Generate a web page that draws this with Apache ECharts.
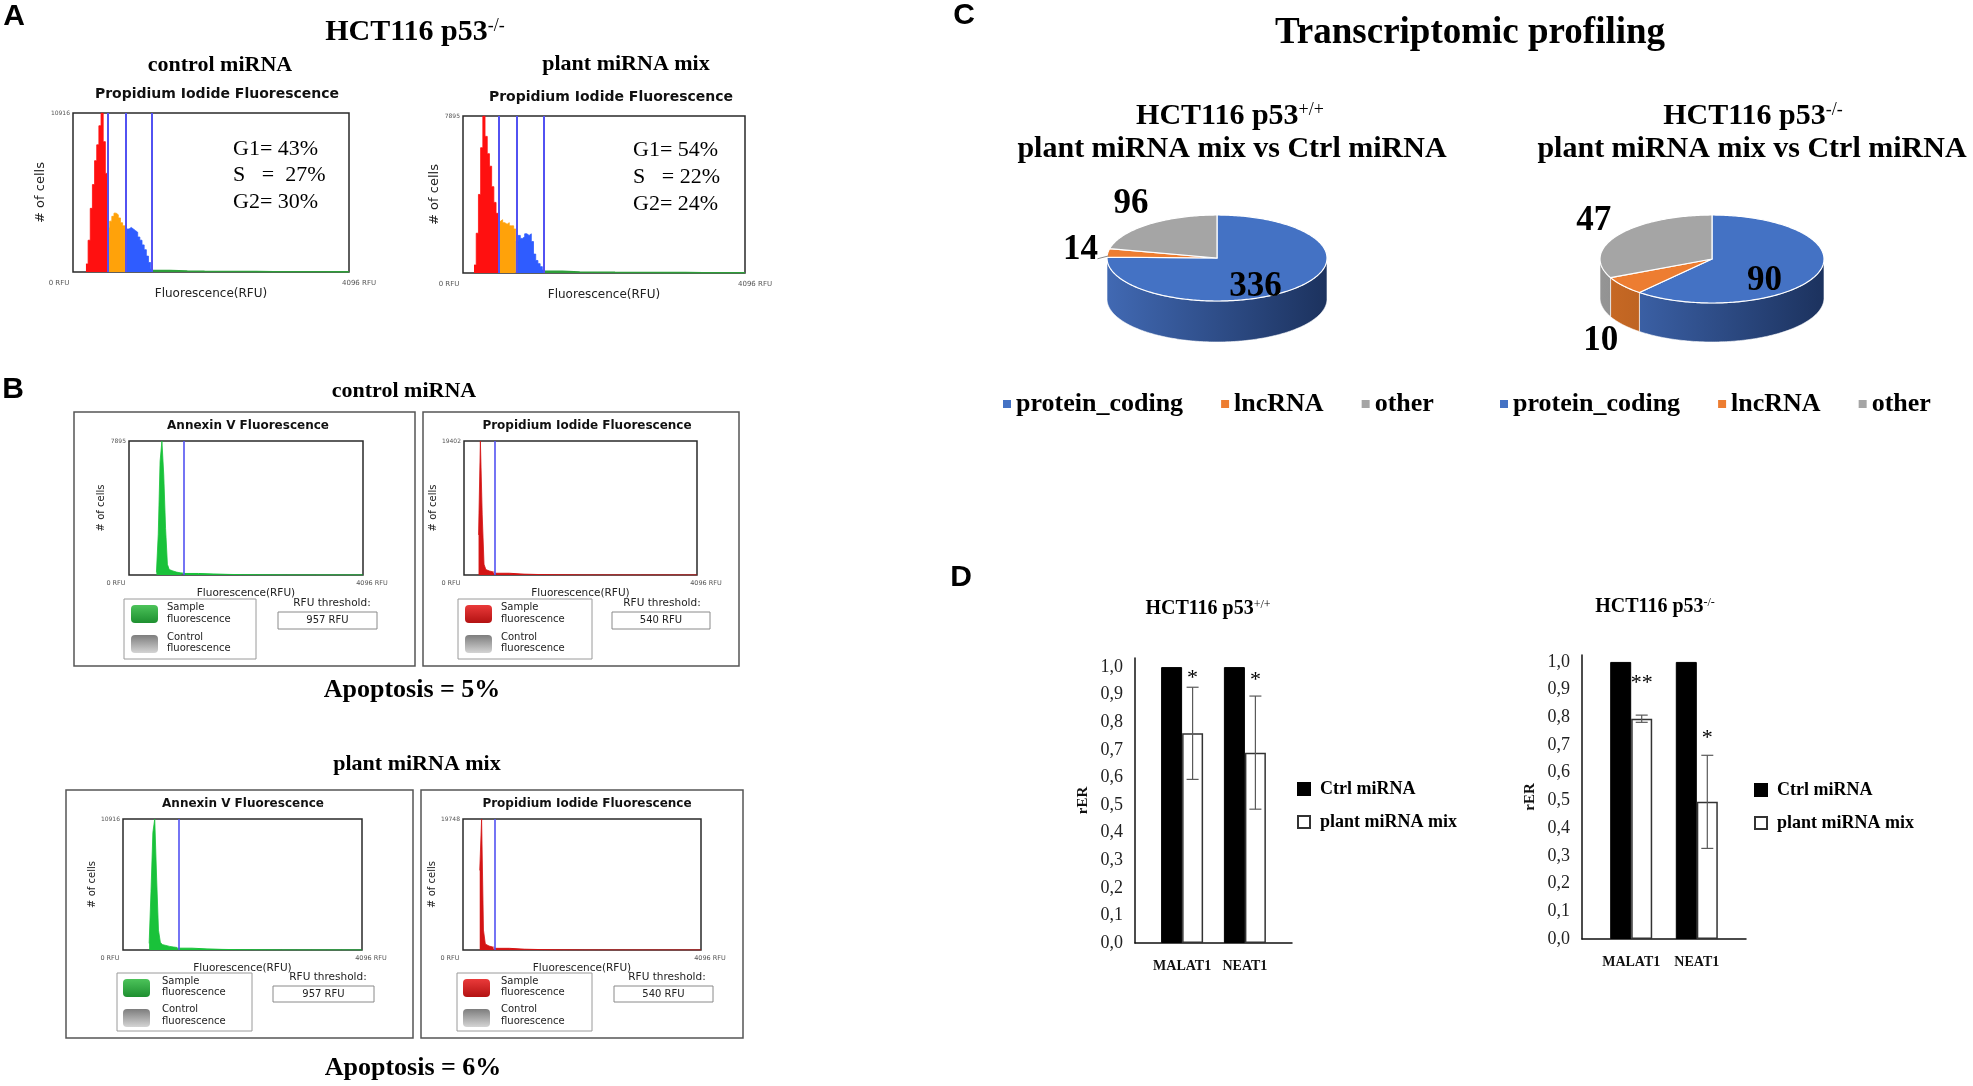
<!DOCTYPE html>
<html><head><meta charset="utf-8">
<script src="https://cdn.jsdelivr.net/npm/echarts@6/dist/echarts.min.js"></script>
<style>html,body{margin:0;padding:0;background:#fff}#c{width:1973px;height:1086px}</style>
</head><body><div id="c"></div>
<script>
// ---------------- DATA ----------------
const BIN = 32, TAIL_BIN = 256, RFU_MAX = 4096;

// Panel A: PI cell-cycle histograms, HCT116 p53-/- (counts per 32-RFU bin)
const cycleCtrlMax = 10916;
const cycleCtrlStart = 192;
const cycleCtrlG1 = [550, 2180, 4370, 6000, 7640, 8730, 10040, 10916, 8950, 6770];
const cycleCtrlS  = [3060, 3490, 3820, 4040, 3930, 3710, 3380, 3170, 3060];
const cycleCtrlG2 = [2950, 3060, 2950, 2840, 2730, 2400, 2180, 1860, 1530, 1090, 650, 220];
const cycleCtrlTail = [100, 60, 45, 35, 30, 25, 22, 20, 18, 15, 12, 10];
const cycleCtrlGates = [520, 785, 1172];
const cycleCtrlPhases = ['G1= 43%', 'S   =  27%', 'G2= 30%'];

const cycleMixMax = 7895;
const cycleMixStart = 160;
const cycleMixG1 = [400, 2000, 3950, 6300, 7895, 6870, 6000, 5370, 4340, 3550, 3000];
const cycleMixS  = [2600, 2680, 2530, 2450, 2530, 2370, 2370, 2210];
const cycleMixG2 = [1580, 1890, 1740, 1820, 1970, 1890, 1970, 1580, 950, 630, 470, 320, 160];
const cycleMixTail = [80, 50, 40, 30, 25, 22, 20, 18, 15, 12, 10, 10];
const cycleMixGates = [523, 784, 1176];
const cycleMixPhases = ['G1= 54%', 'S   = 22%', 'G2= 24%'];

// Panel B: apoptosis histograms
const annexinThreshold = 957, piThreshold = 540;
const annexinCtrlMax = 7895, annexinCtrlStart = 480;
const annexinCtrl = [150, 2400, 6700, 7895, 5900, 2750, 630, 320, 240, 200, 170, 150, 130, 120, 110];
const annexinCtrlTail = [90, 60, 35, 20, 12, 8, 6, 5, 4, 4, 3, 3, 3];
const piCtrlMax = 19402, piCtrlStart = 256;
const piCtrl = [5800, 19402, 8700, 1550, 780, 580, 500, 450, 400];
const piCtrlTail = [250, 120, 70, 40, 25, 15, 12, 10, 8, 6, 5, 5, 5, 5];
const annexinMixMax = 10916, annexinMixStart = 448;
const annexinMix = [550, 4900, 9800, 10916, 6000, 1650, 650, 450, 380, 330, 300, 270, 250, 230, 210];
const annexinMixTail = [150, 90, 50, 30, 20, 12, 8, 6, 5, 4, 4, 3, 3];
const piMixMax = 19748, piMixStart = 288;
const piMix = [12000, 19748, 3000, 900, 600, 500, 450, 400];
const piMixTail = [250, 120, 70, 40, 25, 15, 12, 10, 8, 6, 5, 5, 5, 5];
const apoptosisCtrl = 'Apoptosis = 5%';
const apoptosisMix = 'Apoptosis = 6%';

// Panel C: transcriptomic profiling
const rnaTypes = ['protein_coding', 'lncRNA', 'other'];
const degWt = [336, 14, 96];
const degKo = [90, 10, 47];

// Panel D: rER
const genes = ['MALAT1', 'NEAT1'];
const rerCtrlWt = [1.0, 1.0];
const rerMixWt = [0.76, 0.69];
const rerMixWtErr = [0.167, 0.205];
const sigWt = ['*', '*'];
const sigWtY = [0.98, 0.975];
const rerCtrlKo = [1.0, 1.0];
const rerMixKo = [0.795, 0.495];
const rerMixKoErr = [0.013, 0.168];
const sigKo = ['**', '*'];
const sigKoY = [0.945, 0.745];

// ---------------- STYLE / LAYOUT ----------------
const SERIF = '"Liberation Serif","Times New Roman",serif';
const SANS = '"DejaVu Sans",Verdana,sans-serif';
const ARIAL = '"Liberation Sans",Arial,sans-serif';
const RED = '#ff1010', ORANGE = '#ffa20a', BLUE = '#2f5cff', GREEN = '#2e9e3a', SPIKE_GREEN = '#19c23a', SPIKE_RED = '#d41414';
const rnaColors = ['#4472C4', '#ED7D31', '#A5A5A5'];
const wallColors = [['#4169b3', '#1c325e'], ['#c96a25', '#8e4714'], ['#959595', '#5e5e5e']];
const BAR_W = 21;

const grids = [], xAxes = [], yAxes = [], series = [], G = [];

function txt(x, y, text, font, opt) {
  opt = opt || {};
  const align = opt.align || 'center', va = opt.va || 'middle';
  const style = {text: text, font: font, fill: opt.fill || '#000', align: align, verticalAlign: va, textAlign: align, textVerticalAlign: va};
  if (opt.rich) style.rich = opt.rich;
  return {type: 'text', x: x, y: y, silent: true, z: 50, style: style};
}
function supTitle(x, y, main, sup, size, supSize) {
  return txt(x, y, '{m|' + main + '}{s|' + sup + '}', 'bold ' + size + 'px ' + SERIF,
    {rich: {m: {font: 'bold ' + size + 'px ' + SERIF}, s: {font: supSize + 'px ' + SERIF, verticalAlign: 'top'}}});
}
function stepPts(start, bin, counts) {
  const pts = counts.map((c, i) => [Math.min(start + i * bin, RFU_MAX), c]);
  pts.push([Math.min(start + counts.length * bin, RFU_MAX), counts[counts.length - 1]]);
  return pts;
}
function addHist(g, box, ymax, regions, gateVals, o) {
  grids.push({left: box[0], top: box[1], width: box[2], height: box[3], show: true, borderColor: '#2a2a2a', borderWidth: 1.5, backgroundColor: '#fff'});
  xAxes.push({gridIndex: g, type: 'value', min: 0, max: RFU_MAX, interval: RFU_MAX,
    axisLine: {show: false}, axisTick: {show: false}, splitLine: {show: false},
    axisLabel: {fontFamily: SANS, fontSize: o.tick, color: '#555', margin: o.tickMargin,
      formatter: v => v === 0 ? '{a|0 RFU}' : '{b|' + v + ' RFU}',
      rich: {a: {fontFamily: SANS, fontSize: o.tick, color: '#555', padding: [0, o.padL, 0, 0]},
             b: {fontFamily: SANS, fontSize: o.tick, color: '#555', padding: [0, 0, 0, o.padR]}}},
    name: 'Fluorescence(RFU)', nameLocation: 'middle', nameGap: o.xGap,
    nameTextStyle: {fontFamily: SANS, fontSize: o.xName, color: '#222'}});
  yAxes.push({gridIndex: g, type: 'value', min: 0, max: ymax, interval: ymax,
    axisLine: {show: false}, axisTick: {show: false}, splitLine: {show: false},
    axisLabel: {fontFamily: SANS, fontSize: 6, color: '#555', margin: 3, formatter: v => v === ymax ? String(ymax) : ''},
    name: '# of cells', nameLocation: 'middle', nameGap: o.yGap, nameRotate: 90,
    nameTextStyle: {fontFamily: SANS, fontSize: o.yName, color: '#222'}});
  regions.forEach((r, i) => {
    const s = {type: 'line', xAxisIndex: g, yAxisIndex: g, step: 'end', symbol: 'none', silent: true, z: 2,
      data: stepPts(r.start, r.bin, r.counts),
      lineStyle: {color: r.color, width: r.lw || 0.8}, areaStyle: {color: r.color, opacity: 1}, itemStyle: {color: r.color}};
    if (i === 0) s.markLine = {silent: true, symbol: 'none', label: {show: false}, animation: false,
      lineStyle: {color: '#5252f2', width: o.gateW, type: 'solid'}, data: gateVals.map(v => ({xAxis: v}))};
    series.push(s);
  });
}
function cycleRegions(start, g1, s, g2, tail) {
  const sStart = start + g1.length * BIN, g2Start = sStart + s.length * BIN, tStart = g2Start + g2.length * BIN;
  return [
    {start: start, bin: BIN, counts: g1, color: RED},
    {start: sStart, bin: BIN, counts: s, color: ORANGE},
    {start: g2Start, bin: BIN, counts: g2, color: BLUE},
    {start: tStart, bin: TAIL_BIN, counts: tail, color: GREEN, lw: 1.6}
  ];
}
function spikeRegions(start, fine, tail, color) {
  return [
    {start: start, bin: BIN, counts: fine, color: color},
    {start: start + fine.length * BIN, bin: TAIL_BIN, counts: tail, color: color, lw: 1}
  ];
}
const optA = {tick: 7, tickMargin: 8, padL: 28, padR: 20, xGap: 10, xName: 12, yGap: 14, yName: 13, gateW: 2};
const optB = {tick: 6.5, tickMargin: 5, padL: 26, padR: 18, xGap: 8, xName: 10.5, yGap: 12, yName: 10, gateW: 1.6};

// Panel A
addHist(0, [73, 113, 276, 159], cycleCtrlMax, cycleRegions(cycleCtrlStart, cycleCtrlG1, cycleCtrlS, cycleCtrlG2, cycleCtrlTail), cycleCtrlGates, optA);
addHist(1, [463, 116, 282, 157], cycleMixMax, cycleRegions(cycleMixStart, cycleMixG1, cycleMixS, cycleMixG2, cycleMixTail), cycleMixGates, optA);
// Panel B
addHist(2, [129, 441, 234, 134], annexinCtrlMax, spikeRegions(annexinCtrlStart, annexinCtrl, annexinCtrlTail, SPIKE_GREEN), [annexinThreshold], optB);
addHist(3, [464, 441, 233, 134], piCtrlMax, spikeRegions(piCtrlStart, piCtrl, piCtrlTail, SPIKE_RED), [piThreshold], optB);
addHist(4, [123, 819, 239, 131], annexinMixMax, spikeRegions(annexinMixStart, annexinMix, annexinMixTail, SPIKE_GREEN), [annexinThreshold], optB);
addHist(5, [463, 819, 238, 131], piMixMax, spikeRegions(piMixStart, piMix, piMixTail, SPIKE_RED), [piThreshold], optB);

// Panel D: category slots = spacer, gene, spacer, gene, spacer
const axisSlots = [' ', genes[0], '  ', genes[1], '   '];
function addBars(g, box, ymax, ctrl, mix, err, sig, sigY) {
  grids.push({left: box[0], top: box[1], width: box[2], height: box[3], show: false});
  xAxes.push({gridIndex: g, type: 'category', boundaryGap: true, data: axisSlots,
    axisLine: {show: true, lineStyle: {color: '#111', width: 1.5}}, axisTick: {show: false},
    axisLabel: {interval: 0, fontFamily: SERIF, fontWeight: 'bold', fontSize: 14, color: '#111', margin: 16}});
  yAxes.push({gridIndex: g, type: 'value', min: 0, max: ymax, interval: 0.1,
    axisLine: {show: true, lineStyle: {color: '#111', width: 1.5}}, axisTick: {show: false}, splitLine: {show: false},
    axisLabel: {fontFamily: SERIF, fontSize: 18, color: '#222', margin: 12,
      formatter: v => v > 1.0001 ? '' : v.toFixed(1).replace('.', ',')},
    name: 'rER', nameLocation: 'middle', nameGap: 44, nameRotate: 90,
    nameTextStyle: {fontFamily: SERIF, fontWeight: 'bold', fontSize: 15, color: '#111'}});
  series.push({type: 'bar', name: 'Ctrl miRNA', xAxisIndex: g, yAxisIndex: g, barWidth: BAR_W, barGap: '0%',
    data: genes.map((n, i) => [n, ctrl[i]]), itemStyle: {color: '#000', borderColor: '#000', borderWidth: 1}, silent: true});
  series.push({type: 'bar', name: 'plant miRNA mix', xAxisIndex: g, yAxisIndex: g, barWidth: BAR_W, barGap: '0%',
    data: genes.map((n, i) => [n, mix[i]]), itemStyle: {color: '#fff', borderColor: '#333', borderWidth: 1.5}, silent: true});
  series.push({type: 'custom', xAxisIndex: g, yAxisIndex: g, z: 5, silent: true,
    data: genes.map((n, i) => [n, mix[i], err[i]]),
    renderItem: function (params, api) {
      const c = api.value(0), m = api.value(1), e = api.value(2);
      const t = api.coord([c, m + e]), b = api.coord([c, m - e]);
      const x = t[0] + BAR_W / 2;
      const st = api.coord([c, sigY[params.dataIndex]]);
      const ls = {stroke: '#5a5a5a', lineWidth: 1.2};
      return {type: 'group', children: [
        {type: 'line', shape: {x1: x, y1: t[1], x2: x, y2: b[1]}, style: ls},
        {type: 'line', shape: {x1: x - 6, y1: t[1], x2: x + 6, y2: t[1]}, style: ls},
        {type: 'line', shape: {x1: x - 6, y1: b[1], x2: x + 6, y2: b[1]}, style: ls},
        {type: 'text', x: x, y: st[1] + 6, style: {text: sig[params.dataIndex], font: '22px ' + SERIF, fill: '#000',
          align: 'center', verticalAlign: 'middle', textAlign: 'center', textVerticalAlign: 'middle'}}
      ]};
    }});
}
addBars(6, [1135, 658, 157, 285], 1.033, rerCtrlWt, rerMixWt, rerMixWtErr, sigWt, sigWtY);
addBars(7, [1582, 655, 164, 284], 1.025, rerCtrlKo, rerMixKo, rerMixKoErr, sigKo, sigKoY);

// Panel C: 3D-look pies drawn from the values
const pieValues = [degWt, degKo];
const pieLayout = [
  {cx: 1217, cy: 258, rx: 110, ry: 43, depth: 41},
  {cx: 1712, cy: 259, rx: 112, ry: 44, depth: 39}
];
function pieRender(p, k) {
  return function (params, api) {
    const L = pieLayout[p], vals = pieValues[p];
    const total = vals.reduce((a, b) => a + b, 0);
    let acc = 0; for (let j = 0; j < k; j++) acc += vals[j];
    const v = api.value(0);
    const a0 = acc / total * 360, a1 = (acc + v) / total * 360;
    const P = (deg, dy) => { const r = deg * Math.PI / 180; return [L.cx + L.rx * Math.sin(r), L.cy - L.ry * Math.cos(r) + (dy || 0)]; };
    const arc = (s, e, dy) => { const n = Math.max(2, Math.ceil(Math.abs(e - s))); const out = []; for (let i = 0; i <= n; i++) out.push(P(s + (e - s) * i / n, dy)); return out; };
    const ch = [];
    const w0 = Math.max(a0, 90), w1 = Math.min(a1, 270);
    if (w1 > w0) {
      ch.push({type: 'polygon', z2: 1, shape: {points: arc(w0, w1, 0).concat(arc(w1, w0, L.depth))},
        style: {fill: new echarts.graphic.LinearGradient(L.cx - L.rx, 0, L.cx + L.rx, 0,
          [{offset: 0, color: wallColors[k][0]}, {offset: 1, color: wallColors[k][1]}], true),
          stroke: '#ffffff', lineWidth: 0.6}});
    }
    ch.push({type: 'polygon', z2: 5, shape: {points: [[L.cx, L.cy]].concat(arc(a0, a1, 0))},
      style: {fill: rnaColors[k], stroke: '#ffffff', lineWidth: 1.2, lineJoin: 'round'}});
    const mid = (a0 + a1) / 2, mr = mid * Math.PI / 180, s = Math.sin(mr), c = Math.cos(mr);
    let lx, ly;
    if (k === 0) { lx = L.cx + L.rx * 0.5 * s; ly = L.cy - L.ry * 0.5 * c + 14; }
    else { lx = L.cx + L.rx * 1.25 * s; ly = L.cy - L.ry * 1.6 * c + (c < 0 ? L.depth : 0); }
    ch.push({type: 'text', z2: 10, x: lx, y: ly, style: {text: String(v), font: 'bold 35px ' + SERIF, fill: '#000',
      align: 'center', verticalAlign: 'middle', textAlign: 'center', textVerticalAlign: 'middle'}});
    if (v / total < 0.05) {
      const rim = P(mid, 0);
      ch.push({type: 'polyline', z2: 10, shape: {points: [[lx + 17, ly + 9], [rim[0] + 1, rim[1] + 3]]},
        style: {stroke: '#8a8a8a', lineWidth: 1, fill: null}});
    }
    return {type: 'group', children: ch};
  };
}
[0, 1].forEach(p => {
  rnaTypes.forEach((name, k) => {
    series.push({type: 'custom', name: name, coordinateSystem: 'none', silent: true, z: 2,
      itemStyle: {color: rnaColors[k]}, data: [pieValues[p][k]], renderItem: pieRender(p, k)});
  });
});

// ---------------- TEXT / DECORATION ----------------
G.push(txt(14, 17, 'A', 'bold 30px ' + ARIAL));
G.push(txt(13, 390, 'B', 'bold 30px ' + ARIAL));
G.push(txt(964, 16, 'C', 'bold 30px ' + ARIAL));
G.push(txt(961, 578, 'D', 'bold 30px ' + ARIAL));

// A
G.push(supTitle(415, 32, 'HCT116 p53', '-/-', 30, 18));
G.push(txt(220, 65, 'control miRNA', 'bold 22px ' + SERIF));
G.push(txt(626, 64, 'plant miRNA mix', 'bold 22px ' + SERIF));
G.push(txt(217, 94, 'Propidium Iodide Fluorescence', 'bold 14px ' + SANS, {fill: '#111'}));
G.push(txt(611, 97, 'Propidium Iodide Fluorescence', 'bold 14px ' + SANS, {fill: '#111'}));
cycleCtrlPhases.forEach((t, i) => G.push(txt(233, 149 + i * 26.5, t, '22px ' + SERIF, {align: 'left'})));
cycleMixPhases.forEach((t, i) => G.push(txt(633, 150 + i * 27, t, '22px ' + SERIF, {align: 'left'})));

// B
function bPanel(box, title, titleX, titleY, legBox, swatchX, swatchY, swColor, textX, textY, thrX, thrY, thrBox, thrText) {
  G.push({type: 'rect', silent: true, z: 1, shape: {x: box[0], y: box[1], width: box[2], height: box[3]}, style: {fill: 'none', stroke: '#555', lineWidth: 1.5}});
  G.push(txt(titleX, titleY, title, 'bold 12px ' + SANS, {fill: '#111'}));
  G.push({type: 'rect', silent: true, z: 1, shape: {x: legBox[0], y: legBox[1], width: legBox[2], height: legBox[3]}, style: {fill: '#fff', stroke: '#9a9a9a', lineWidth: 1}});
  G.push({type: 'rect', silent: true, z: 2, shape: {x: swatchX, y: swatchY[0], width: 27, height: 18, r: 4},
    style: {fill: new echarts.graphic.LinearGradient(0, 0, 0, 1, [{offset: 0, color: swColor[0]}, {offset: 1, color: swColor[1]}])}});
  G.push({type: 'rect', silent: true, z: 2, shape: {x: swatchX, y: swatchY[1], width: 27, height: 18, r: 4},
    style: {fill: new echarts.graphic.LinearGradient(0, 0, 0, 1, [{offset: 0, color: '#7d7d7d'}, {offset: 1, color: '#d4d4d4'}])}});
  ['Sample', 'fluorescence', 'Control', 'fluorescence'].forEach((t, i) => G.push(txt(textX, textY[i], t, '10px ' + SANS, {align: 'left', fill: '#222'})));
  G.push(txt(thrX, thrY, 'RFU threshold:', '10.5px ' + SANS, {fill: '#222'}));
  G.push({type: 'rect', silent: true, z: 1, shape: {x: thrBox[0], y: thrBox[1], width: thrBox[2], height: thrBox[3]}, style: {fill: '#fff', stroke: '#8a8a8a', lineWidth: 1}});
  G.push(txt(thrBox[0] + thrBox[2] / 2, thrBox[1] + thrBox[3] / 2, thrText, '10px ' + SANS, {fill: '#222'}));
}
const greenSw = ['#4cc35a', '#1e8f30'], redSw = ['#ea3a3a', '#b31212'];
G.push(txt(404, 391, 'control miRNA', 'bold 22px ' + SERIF));
bPanel([74, 412, 341, 254], 'Annexin V Fluorescence', 248, 426, [124, 599, 132, 60], 131, [605, 635], greenSw, 167, [607, 619, 637, 648], 332, 603, [278, 612, 99, 17], annexinThreshold + ' RFU');
bPanel([423, 412, 316, 254], 'Propidium Iodide Fluorescence', 587, 426, [458, 599, 134, 60], 465, [605, 635], redSw, 501, [607, 619, 637, 648], 662, 603, [612, 612, 98, 17], piThreshold + ' RFU');
G.push(txt(412, 690, apoptosisCtrl, 'bold 26px ' + SERIF));
G.push(txt(417, 764, 'plant miRNA mix', 'bold 22px ' + SERIF));
bPanel([66, 790, 347, 248], 'Annexin V Fluorescence', 243, 804, [117, 973, 135, 58], 123, [979, 1009], greenSw, 162, [981, 992, 1009, 1021], 328, 977, [273, 986, 101, 16], annexinThreshold + ' RFU');
bPanel([421, 790, 322, 248], 'Propidium Iodide Fluorescence', 587, 804, [457, 973, 135, 58], 463, [979, 1009], redSw, 501, [981, 992, 1009, 1021], 667, 977, [614, 986, 99, 16], piThreshold + ' RFU');
G.push(txt(413, 1068, apoptosisMix, 'bold 26px ' + SERIF));

// C
G.push(txt(1470, 33, 'Transcriptomic profiling', 'bold 37px ' + SERIF));
G.push(supTitle(1230, 116, 'HCT116 p53', '+/+', 30, 18));
G.push(txt(1232, 149, 'plant miRNA mix vs Ctrl miRNA', 'bold 30px ' + SERIF));
G.push(supTitle(1753, 116, 'HCT116 p53', '-/-', 30, 18));
G.push(txt(1752, 149, 'plant miRNA mix vs Ctrl miRNA', 'bold 30px ' + SERIF));

// D
G.push(supTitle(1208, 609, 'HCT116 p53', '+/+', 20, 12));
G.push(supTitle(1655, 607, 'HCT116 p53', '-/-', 20, 12));

const pieLegend = {data: rnaTypes, orient: 'horizontal', icon: 'rect', itemWidth: 8, itemHeight: 8, itemGap: 38, padding: 0, selectedMode: false,
  textStyle: {fontFamily: SERIF, fontWeight: 'bold', fontSize: 26, color: '#000'}};
const barLegend = {data: ['Ctrl miRNA', 'plant miRNA mix'], orient: 'vertical', icon: 'rect', itemWidth: 12, itemHeight: 12, itemGap: 15, padding: 0, selectedMode: false,
  textStyle: {fontFamily: SERIF, fontWeight: 'bold', fontSize: 18, color: '#000', padding: [0, 0, 0, 5]}};

const chart = echarts.init(document.getElementById('c'), null, {renderer: 'canvas', width: 1973, height: 1086});
chart.setOption({
  backgroundColor: '#fff',
  animation: false,
  textStyle: {fontFamily: SERIF},
  grid: grids,
  xAxis: xAxes,
  yAxis: yAxes,
  legend: [
    Object.assign({left: 1003, top: 391}, pieLegend),
    Object.assign({left: 1500, top: 391}, pieLegend),
    Object.assign({left: 1297, top: 780}, barLegend),
    Object.assign({left: 1754, top: 781}, barLegend)
  ],
  series: series,
  graphic: {elements: G}
});
</script>
</body></html>
